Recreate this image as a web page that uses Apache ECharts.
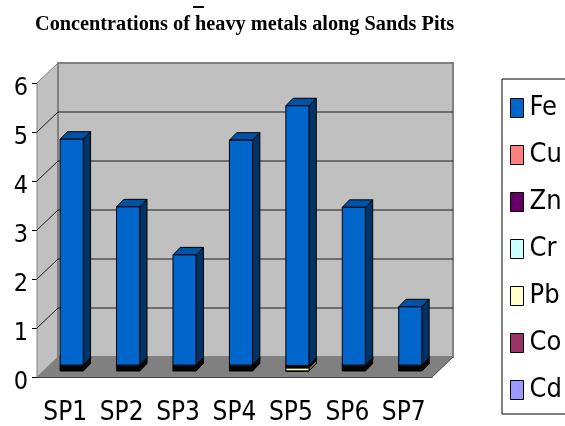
<!DOCTYPE html>
<html>
<head>
<meta charset="utf-8">
<script src="https://cdn.jsdelivr.net/npm/echarts@6/dist/echarts.min.js"></script>
<style>
  html, body { margin: 0; padding: 0; background: #fff; }
  #chart { width: 565px; height: 426px; }
</style>
</head>
<body>
<div id="chart"></div>
<script>
const categories = ['SP1', 'SP2', 'SP3', 'SP4', 'SP5', 'SP6', 'SP7']
const yTicks = [1, 2, 3, 4, 5]

// concentrations (stack order: Cd at bottom, Fe on top)
const fe = [4.61, 3.23, 2.25, 4.59, 5.30, 3.22, 1.19]
const cu = [0.025, 0.025, 0.025, 0.025, 0.02, 0.025, 0.025]
const zn = [0.025, 0.025, 0.025, 0.025, 0.02, 0.025, 0.025]
const cr = [0.02, 0.02, 0.02, 0.02, 0.01, 0.02, 0.02]
const pb = [0.02, 0.02, 0.02, 0.02, 0.06, 0.02, 0.02]
const co = [0.02, 0.02, 0.02, 0.02, 0.002, 0.02, 0.02]
const cd = [0.01, 0.01, 0.01, 0.01, 0.001, 0.01, 0.01]

const metals = [
  { name: 'Cd', values: cd, color: '#9999FF' },
  { name: 'Co', values: co, color: '#993366' },
  { name: 'Pb', values: pb, color: '#FFFFCC' },
  { name: 'Cr', values: cr, color: '#CCFFFF' },
  { name: 'Zn', values: zn, color: '#660066' },
  { name: 'Cu', values: cu, color: '#FF8080' },
  { name: 'Fe', values: fe, color: '#0066CC', side: '#003366', top: '#0052A6' }
]
const legendOrder = ['Fe', 'Cu', 'Zn', 'Cr', 'Pb', 'Co', 'Cd']

const NARROW = '"DejaVu Sans Condensed", "Liberation Sans Narrow", "Liberation Sans", Arial, sans-serif'
const DEPTH_X = 21
const DEPTH_Y = 20

function shade(hex, f) {
  const n = parseInt(hex.slice(1), 16)
  const r = Math.round(((n >> 16) & 255) * f)
  const g = Math.round(((n >> 8) & 255) * f)
  const b = Math.round((n & 255) * f)
  return 'rgb(' + r + ',' + g + ',' + b + ')'
}

function renderWalls(params, api) {
  const cs = params.coordSys
  const x0 = cs.x, y0 = cs.y, w = cs.width, yb = cs.y + cs.height
  const children = [
    { type: 'polygon', shape: { points: [[x0, yb], [x0 + DEPTH_X, yb - DEPTH_Y], [x0 + w + DEPTH_X, yb - DEPTH_Y], [x0 + w, yb]] },
      style: { fill: '#808080', stroke: '#808080', lineWidth: 1 } },
    { type: 'polygon', shape: { points: [[x0, yb], [x0, y0], [x0 + DEPTH_X, y0 - DEPTH_Y], [x0 + DEPTH_X, yb - DEPTH_Y]] },
      style: { fill: '#C0C0C0', stroke: '#808080', lineWidth: 1 } },
    { type: 'rect', shape: { x: x0 + DEPTH_X, y: y0 - DEPTH_Y, width: w, height: cs.height },
      style: { fill: '#C0C0C0', stroke: '#808080', lineWidth: 2 } }
  ]
  yTicks.forEach(v => {
    const y = api.coord([0, v])[1]
    children.push({ type: 'polyline', shape: { points: [[x0, y], [x0 + DEPTH_X, y - DEPTH_Y], [x0 + w + DEPTH_X, y - DEPTH_Y]] },
      style: { fill: null, stroke: '#1a1a1a', lineWidth: 1 } })
  })
  children.push({ type: 'line', shape: { x1: x0 + w, y1: yb, x2: x0 + w + DEPTH_X, y2: yb - DEPTH_Y },
    style: { stroke: '#555', lineWidth: 1 } })
  return { type: 'group', children }
}

function makeBarRenderer(m) {
  const sideColor = m.side || shade(m.color, 0.5)
  const topColor = m.top || shade(m.color, 0.8)
  return function (params, api) {
    const i = api.value(0)
    const pLo = api.coord([i, api.value(1)])
    const pHi = api.coord([i, api.value(2)])
    const band = api.size([1, 0])[0]
    const barW = band * 0.41
    const dx = band * 0.115, dy = 6
    const ddx = 7.3, ddy = 7.5
    const xl = pLo[0] - barW / 2 + dx, xr = xl + barW
    const yb = pLo[1] - dy, yt = pHi[1] - dy
    const st = { stroke: '#000', lineWidth: 1 }
    return {
      type: 'group',
      children: [
        { type: 'polygon', shape: { points: [[xr, yt], [xr + ddx, yt - ddy], [xr + ddx, yb - ddy], [xr, yb]] },
          style: Object.assign({ fill: sideColor }, st) },
        { type: 'polygon', shape: { points: [[xl, yt], [xl + ddx, yt - ddy], [xr + ddx, yt - ddy], [xr, yt]] },
          style: Object.assign({ fill: topColor }, st) },
        { type: 'rect', shape: { x: xl, y: yt, width: barW, height: yb - yt },
          style: Object.assign({ fill: m.color }, st) }
      ]
    }
  }
}

const base = categories.map(() => 0)
const barSeries = metals.map(m => {
  const data = categories.map((c, i) => {
    const lo = base[i]
    base[i] += m.values[i]
    return [i, lo, base[i]]
  })
  return {
    name: m.name,
    type: 'custom',
    renderItem: makeBarRenderer(m),
    encode: { x: 0, y: 2 },
    itemStyle: { color: m.color, borderColor: '#000', borderWidth: 1 },
    clip: false,
    silent: true,
    data
  }
})

const chart = echarts.init(document.getElementById('chart'), null, { renderer: 'canvas' })
chart.setOption({
  animation: false,
  backgroundColor: '#fff',
  title: {
    text: 'Concentrations of heavy metals along Sands Pits',
    left: 35,
    top: 15,
    padding: 0,
    textStyle: { fontFamily: '"Liberation Serif", "Times New Roman", serif', fontWeight: 'bold', fontSize: 20.3, color: '#000' }
  },
  graphic: [
    { type: 'rect', shape: { x: 193, y: 6, width: 11, height: 2 }, style: { fill: '#000' } }
  ],
  legend: {
    data: legendOrder,
    orient: 'vertical',
    left: 502,
    top: 79,
    padding: [15, 40, 10, 8],
    itemWidth: 13,
    itemHeight: 19,
    itemGap: 19,
    icon: 'rect',
    selectedMode: false,
    borderColor: '#000',
    borderWidth: 1,
    itemStyle: { borderColor: '#000', borderWidth: 1 },
    textStyle: { fontFamily: NARROW, fontSize: 27, lineHeight: 28, color: '#000', padding: [0, 0, 0, 1] }
  },
  grid: { left: 37, right: 133, top: 83, bottom: 49 },
  xAxis: {
    type: 'category',
    data: categories,
    axisLine: { lineStyle: { color: '#000', width: 1 } },
    axisTick: { length: 6, lineStyle: { color: '#000' } },
    axisLabel: { interval: 0, fontFamily: NARROW, fontSize: 26, color: '#000', margin: 23 },
    splitLine: { show: false }
  },
  yAxis: {
    type: 'value',
    min: 0,
    max: 6,
    interval: 1,
    axisLine: { show: true, lineStyle: { color: '#000', width: 1 } },
    axisTick: { show: true, length: 5, lineStyle: { color: '#000' } },
    axisLabel: { fontFamily: NARROW, fontSize: 25, color: '#000', margin: 9, verticalAlign: 'top', lineHeight: 10 },
    splitLine: { show: false }
  },
  series: [
    { type: 'custom', renderItem: renderWalls, data: [[0, 0]], silent: true, clip: false, z: 1, encode: { x: 0, y: 1 } }
  ].concat(barSeries.map(s => Object.assign(s, { z: 2 })))
})
</script>
</body>
</html>
